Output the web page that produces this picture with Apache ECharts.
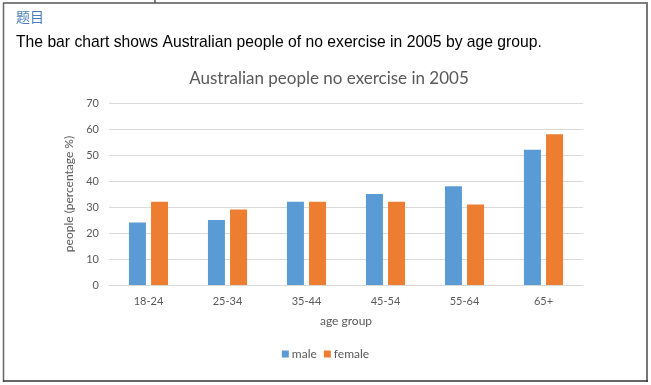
<!DOCTYPE html>
<html>
<head>
<meta charset="utf-8">
<script src="https://cdn.jsdelivr.net/npm/echarts@6/dist/echarts.min.js"></script>
<style>
html,body{margin:0;padding:0;background:#fff;}
#c{width:651px;height:385px;}
</style>
</head>
<body>
<div id="c"></div>
<script>
var categories = ['18-24', '25-34', '35-44', '45-54', '55-64', '65+'];
var maleValues = [24, 25, 32, 35, 38, 52];
var femaleValues = [32, 29, 32, 32, 31, 58];
var seriesNames = ['male', 'female'];
var yTicks = [0, 10, 20, 30, 40, 50, 60, 70];

var chart = echarts.init(document.getElementById('c'), null, {renderer: 'canvas'});
var gray = '#595959';
var option = {
  animation: false,
  backgroundColor: '#ffffff',
  title: [
    {
      text: '题目',
      left: 11, top: 5,
      textStyle: {fontFamily: 'Noto Sans CJK SC', fontSize: 14, fontWeight: 'normal', color: '#4a7ebb'}
    },
    {
      text: 'The bar chart shows Australian people of no exercise in 2005 by age group.',
      left: 11, top: 30,
      textStyle: {fontFamily: 'Liberation Sans', fontSize: 15.7, fontWeight: 'normal', color: '#000000'}
    },
    {
      text: 'Australian people no exercise in 2005',
      left: 324, top: 65, textAlign: 'center',
      textStyle: {fontFamily: 'Lato', fontSize: 17, fontWeight: 'normal', color: gray}
    }
  ],
  legend: {
    data: seriesNames,
    bottom: 20,
    left: 'center',
    itemWidth: 7, itemHeight: 7, itemGap: 7,
    icon: 'rect',
    textStyle: {fontFamily: 'Lato', fontSize: 12, color: gray, padding: [0, 0, 0, -2]}
  },
  grid: {left: 109, right: 68, top: 103, bottom: 100, containLabel: false},
  xAxis: {
    type: 'category',
    data: categories,
    name: 'age group',
    nameLocation: 'middle',
    nameGap: 30,
    nameTextStyle: {fontFamily: 'Lato', fontSize: 12, color: gray},
    axisLine: {lineStyle: {color: '#d9d9d9'}},
    axisTick: {show: false},
    axisLabel: {fontFamily: 'Lato', fontSize: 11, color: gray, margin: 11}
  },
  yAxis: {
    type: 'value',
    min: yTicks[0], max: yTicks[yTicks.length - 1], interval: 10,
    name: 'people (percentage %)',
    nameLocation: 'middle',
    nameGap: 25,
    nameTextStyle: {fontFamily: 'Lato', fontSize: 12, color: gray},
    axisLine: {show: false},
    axisTick: {show: false},
    splitLine: {lineStyle: {color: '#d9d9d9'}},
    axisLabel: {fontFamily: 'Lato', fontSize: 11, color: gray, margin: 10}
  },
  series: [
    {name: seriesNames[0], type: 'bar', data: maleValues, barWidth: 17, barGap: '30%', itemStyle: {color: '#5b9bd5'}},
    {name: seriesNames[1], type: 'bar', data: femaleValues, barWidth: 17, barGap: '30%', itemStyle: {color: '#ed7d31'}}
  ],
  graphic: [
    {type: 'line', shape: {x1: 3, y1: 3, x2: 648, y2: 3}, style: {stroke: '#555', lineWidth: 1.5}, silent: true},
    {type: 'line', shape: {x1: 155, y1: 0, x2: 155, y2: 3}, style: {stroke: '#555', lineWidth: 1.5}, silent: true},
    {type: 'line', shape: {x1: 3.5, y1: 3, x2: 3.5, y2: 382}, style: {stroke: '#666', lineWidth: 1.5}, silent: true},
    {type: 'line', shape: {x1: 647, y1: 3, x2: 647, y2: 382}, style: {stroke: '#777', lineWidth: 2}, silent: true},
    {type: 'line', shape: {x1: 3, y1: 381, x2: 648, y2: 381}, style: {stroke: '#333', lineWidth: 1.5}, silent: true}
  ]
};
chart.setOption(option);
</script>
</body>
</html>
